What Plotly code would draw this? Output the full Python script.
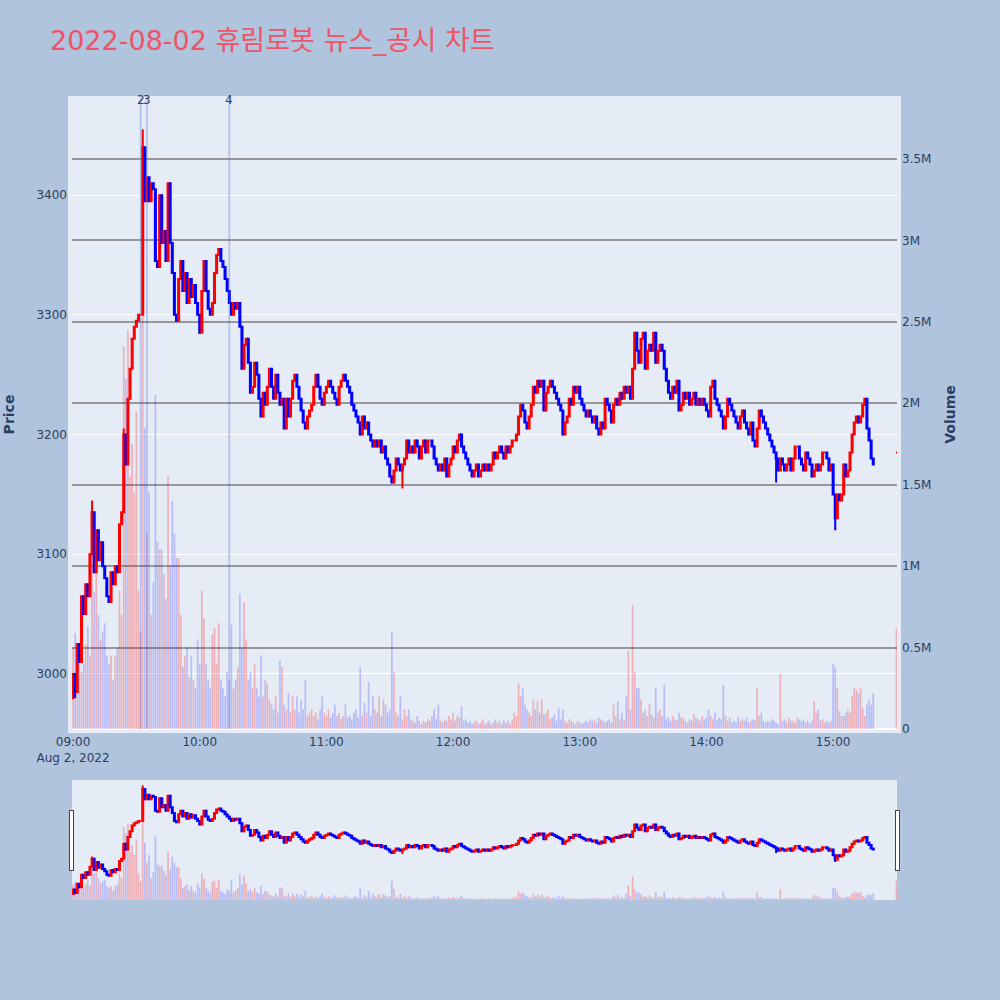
import pandas as pd
import plotly.graph_objects as go
from plotly.subplots import make_subplots

# ---------------- data ----------------
session_start = "2022-08-02 09:00"
first_open = 2980

close = [
    3000, 2985, 3025, 3010, 3065, 3050, 3075, 3065, 3100, 3135,
    3085, 3120, 3095, 3110, 3090, 3080, 3065, 3060, 3085, 3075,
    3090, 3085, 3125, 3135, 3200, 3175, 3230, 3255, 3280, 3290,
    3295, 3300, 3300, 3440, 3395, 3415, 3395, 3410, 3405, 3345,
    3340, 3400, 3360, 3370, 3345, 3410, 3360, 3335, 3300, 3295,
    3330, 3345, 3320, 3335, 3310, 3330, 3315, 3325, 3310, 3300,
    3285, 3320, 3345, 3320, 3305, 3300, 3310, 3335, 3350, 3355,
    3345, 3340, 3330, 3320, 3310, 3300, 3310, 3305, 3310, 3290,
    3255, 3275, 3280, 3260, 3235, 3240, 3260, 3250, 3230, 3215,
    3235, 3225, 3240, 3255, 3240, 3230, 3250, 3235, 3225, 3230,
    3205, 3230, 3215, 3230, 3245, 3250, 3240, 3230, 3220, 3210,
    3205, 3215, 3220, 3225, 3240, 3250, 3240, 3230, 3225, 3235,
    3240, 3245, 3240, 3235, 3230, 3225, 3240, 3245, 3250, 3245,
    3240, 3235, 3225, 3220, 3215, 3210, 3200, 3215, 3205, 3210,
    3200, 3195, 3190, 3195, 3190, 3195, 3185, 3190, 3180, 3175,
    3165, 3160, 3170, 3180, 3175, 3170, 3175, 3180, 3195, 3185,
    3190, 3185, 3195, 3190, 3180, 3190, 3195, 3185, 3195, 3195,
    3190, 3180, 3175, 3170, 3175, 3170, 3180, 3165, 3175, 3180,
    3190, 3185, 3195, 3200, 3190, 3185, 3180, 3175, 3170, 3165,
    3170, 3175, 3165, 3170, 3175, 3170, 3175, 3170, 3175, 3185,
    3180, 3185, 3190, 3185, 3180, 3190, 3185, 3190, 3195, 3195,
    3200, 3215, 3225, 3220, 3210, 3205, 3215, 3225, 3240, 3235,
    3245, 3240, 3245, 3220, 3235, 3240, 3245, 3240, 3235, 3230,
    3225, 3220, 3200, 3210, 3215, 3230, 3225, 3240, 3235, 3240,
    3230, 3225, 3220, 3215, 3220, 3215, 3210, 3215, 3205, 3200,
    3210, 3205, 3230, 3225, 3220, 3210, 3225, 3230, 3225, 3235,
    3230, 3240, 3235, 3240, 3230, 3255, 3285, 3270, 3260, 3280,
    3285, 3255, 3270, 3275, 3270, 3285, 3260, 3270, 3275, 3270,
    3255, 3245, 3235, 3230, 3240, 3235, 3245, 3220, 3225, 3235,
    3230, 3235, 3225, 3230, 3235, 3225, 3230, 3225, 3230, 3225,
    3220, 3215, 3240, 3245, 3230, 3225, 3220, 3215, 3205, 3215,
    3230, 3225, 3220, 3215, 3210, 3205, 3215, 3220, 3210, 3205,
    3200, 3210, 3195, 3190, 3205, 3220, 3215, 3210, 3205, 3200,
    3195, 3190, 3185, 3180, 3170, 3180, 3175, 3170, 3175, 3180,
    3170, 3180, 3190, 3190, 3180, 3175, 3170, 3185, 3180, 3175,
    3165, 3170, 3175, 3170, 3175, 3185, 3185, 3180, 3170, 3175,
    3150, 3130, 3150, 3145, 3150, 3175, 3165, 3170, 3185, 3200,
    3210, 3215, 3210, 3215, 3225, 3230, 3205, 3195, 3180, 3175,
]

# volume per minute, in millions of shares
volume_m = [
    0.50, 0.59, 0.35, 0.47, 0.35, 0.40, 0.52, 0.63, 0.45, 1.33,
    0.84, 1.10, 0.70, 0.55, 0.60, 0.65, 0.45, 0.40, 0.45, 0.30,
    0.45, 0.50, 0.85, 0.70, 2.35, 2.15, 2.45, 1.55, 1.75, 1.45,
    1.95, 0.85, 0.60, 3.68, 1.85, 1.20, 1.45, 0.70, 0.90, 2.05,
    1.15, 1.10, 1.10, 0.95, 0.80, 1.55, 1.00, 1.40, 1.20, 1.05,
    1.05, 0.70, 0.38, 0.45, 0.50, 0.32, 0.45, 0.30, 0.25, 0.55,
    0.40, 0.85, 0.68, 0.40, 0.30, 0.25, 0.58, 0.62, 0.40, 0.65,
    0.30, 0.25, 0.20, 0.35, 0.30, 0.64, 0.25, 0.30, 0.38, 0.83,
    0.50, 0.78, 0.55, 0.30, 0.35, 0.25, 0.40, 0.25, 0.20, 0.45,
    0.20, 0.30, 0.28, 0.18, 0.15, 0.12, 0.20, 0.10, 0.42, 0.38,
    0.15, 0.12, 0.22, 0.10, 0.20, 0.12, 0.20, 0.10, 0.18, 0.12,
    0.30, 0.08, 0.10, 0.12, 0.08, 0.10, 0.06, 0.12, 0.20, 0.10,
    0.08, 0.12, 0.07, 0.10, 0.15, 0.08, 0.10, 0.06, 0.08, 0.15,
    0.07, 0.08, 0.06, 0.10, 0.12, 0.07, 0.38, 0.08, 0.16, 0.10,
    0.29, 0.08, 0.20, 0.12, 0.10, 0.20, 0.08, 0.18, 0.15, 0.10,
    0.12, 0.60, 0.35, 0.10, 0.08, 0.20, 0.06, 0.12, 0.08, 0.12,
    0.06, 0.05, 0.04, 0.08, 0.05, 0.03, 0.05, 0.04, 0.06, 0.05,
    0.08, 0.12, 0.06, 0.15, 0.05, 0.04, 0.06, 0.05, 0.08, 0.06,
    0.10, 0.05, 0.08, 0.07, 0.14, 0.05, 0.06, 0.04, 0.05, 0.03,
    0.04, 0.05, 0.03, 0.04, 0.06, 0.03, 0.04, 0.05, 0.03, 0.04,
    0.06, 0.04, 0.05, 0.03, 0.06, 0.04, 0.05, 0.03, 0.06, 0.10,
    0.08, 0.28, 0.20, 0.25, 0.15, 0.12, 0.10, 0.08, 0.18, 0.12,
    0.17, 0.10, 0.18, 0.09, 0.10, 0.12, 0.06, 0.07, 0.09, 0.05,
    0.13, 0.06, 0.12, 0.05, 0.04, 0.06, 0.05, 0.04, 0.03, 0.05,
    0.04, 0.03, 0.04, 0.05, 0.04, 0.06, 0.05, 0.06, 0.04, 0.07,
    0.06, 0.05, 0.04, 0.05, 0.06, 0.04, 0.15, 0.08, 0.17, 0.06,
    0.10, 0.05, 0.20, 0.48, 0.12, 0.76, 0.35, 0.25, 0.25, 0.18,
    0.10, 0.12, 0.08, 0.15, 0.09, 0.07, 0.25, 0.10, 0.12, 0.08,
    0.27, 0.06, 0.07, 0.05, 0.08, 0.06, 0.05, 0.10, 0.07, 0.07,
    0.05, 0.04, 0.06, 0.05, 0.09, 0.07, 0.06, 0.05, 0.08, 0.06,
    0.07, 0.12, 0.08, 0.06, 0.10, 0.05, 0.07, 0.06, 0.27, 0.08,
    0.05, 0.07, 0.04, 0.05, 0.04, 0.07, 0.05, 0.06, 0.05, 0.07,
    0.04, 0.05, 0.06, 0.05, 0.25, 0.08, 0.10, 0.05, 0.04, 0.05,
    0.04, 0.06, 0.05, 0.04, 0.03, 0.34, 0.05, 0.06, 0.04, 0.07,
    0.05, 0.05, 0.04, 0.07, 0.06, 0.05, 0.06, 0.04, 0.05, 0.03,
    0.05, 0.17, 0.10, 0.12, 0.05, 0.06, 0.04, 0.05, 0.04, 0.05,
    0.40, 0.38, 0.25, 0.11, 0.08, 0.08, 0.10, 0.12, 0.10, 0.20,
    0.25, 0.24, 0.22, 0.25, 0.13, 0.08, 0.15, 0.18, 0.15, 0.22,
]

# extra wick extremes for a few candles (minute index -> price)
wick_high = {33: 3455, 9: 3145, 24: 3205}
wick_low = {1: 2980, 24: 3135, 156: 3155, 333: 3160, 361: 3120}

# closing auction print
auction_time = "2022-08-02 15:30"
auction_price = 3185
auction_volume_m = 0.62

# news / disclosure markers
news_times = ["2022-08-02 09:32", "2022-08-02 09:35", "2022-08-02 10:14"]
news_labels = ["2", "3", "4"]

title_text = "2022-08-02 휴림로봇 뉴스_공시 차트"
x_range = ["2022-08-02 08:59:30", "2022-08-02 15:30:15"]
price_range = [2954, 3479.5]
volume_range = [0, 3.862e6]

# ---------------- build series ----------------
times = list(pd.date_range(session_start, periods=len(close), freq="min"))
opens = [first_open] + close[:-1]
highs = [max(o, c) for o, c in zip(opens, close)]
lows = [min(o, c) for o, c in zip(opens, close)]
for i, v in wick_high.items():
    highs[i] = max(highs[i], v)
for i, v in wick_low.items():
    lows[i] = min(lows[i], v)

times.append(pd.Timestamp(auction_time))
opens.append(auction_price)
closes = close + [auction_price]
highs.append(auction_price)
lows.append(auction_price)
volumes = [v * 1e6 for v in volume_m] + [auction_volume_m * 1e6]

up_color = "red"
down_color = "blue"
vol_colors = ["rgba(255,0,0,0.25)" if c >= o else "rgba(0,0,255,0.2)"
              for o, c in zip(opens, closes)]

FONT = "Verdana, DejaVu Sans, Noto Sans CJK KR, sans-serif"

fig = make_subplots(specs=[[{"secondary_y": True}]])
fig.add_trace(go.Candlestick(
    x=times, open=opens, high=highs, low=lows, close=closes,
    increasing=dict(line=dict(color=up_color), fillcolor=up_color),
    decreasing=dict(line=dict(color=down_color), fillcolor=down_color),
    name="Price", showlegend=False,
), secondary_y=False)
fig.add_trace(go.Bar(
    x=times, y=volumes, marker=dict(color=vol_colors, line=dict(width=0)),
    name="Volume", showlegend=False,
), secondary_y=True)

for t, lab in zip(news_times, news_labels):
    fig.add_shape(type="line", xref="x", yref="paper", x0=t, x1=t, y0=0, y1=1.006,
                  line=dict(color="rgba(65,105,225,0.33)", width=1.7))
    fig.add_annotation(x=t, y=1.0, xref="x", yref="paper", text=lab,
                       showarrow=False, yanchor="middle",
                       font=dict(size=12, color="#2a3f5f", family=FONT))

fig.update_layout(
    width=1000, height=1000, autosize=False,
    paper_bgcolor="lightsteelblue",
    plot_bgcolor="#E5ECF6",
    font=dict(family=FONT, size=12, color="#2a3f5f"),
    title=dict(text=title_text, x=0.05, y=0.959, yanchor="middle",
               font=dict(size=27, color="rgb(239,83,102)", family=FONT)),
    margin=dict(l=72, r=103, t=100, b=100, pad=4),
    showlegend=False,
    bargap=0.2,
)
fig.update_xaxes(
    type="date", range=x_range, domain=[0, 1], showgrid=False, automargin=False,
    rangeslider=dict(visible=True, thickness=0.15, range=x_range,
                     bgcolor="#E5ECF6"),
)
fig.update_yaxes(title_text="<b>Price</b>", title_font=dict(size=14),
                 title_standoff=22, automargin=False,
                 range=price_range, gridcolor="white",
                 secondary_y=False)
fig.update_yaxes(title_text="<b>Volume</b>", title_font=dict(size=14),
                 title_standoff=18, automargin=False,
                 range=volume_range, gridcolor="rgb(150,150,155)", gridwidth=2,
                 showgrid=True, zeroline=True, zerolinecolor="white",
                 secondary_y=True)

fig.write_html("out.html", config={"displayModeBar": False},
               post_script="document.body.style.margin='0px';")
